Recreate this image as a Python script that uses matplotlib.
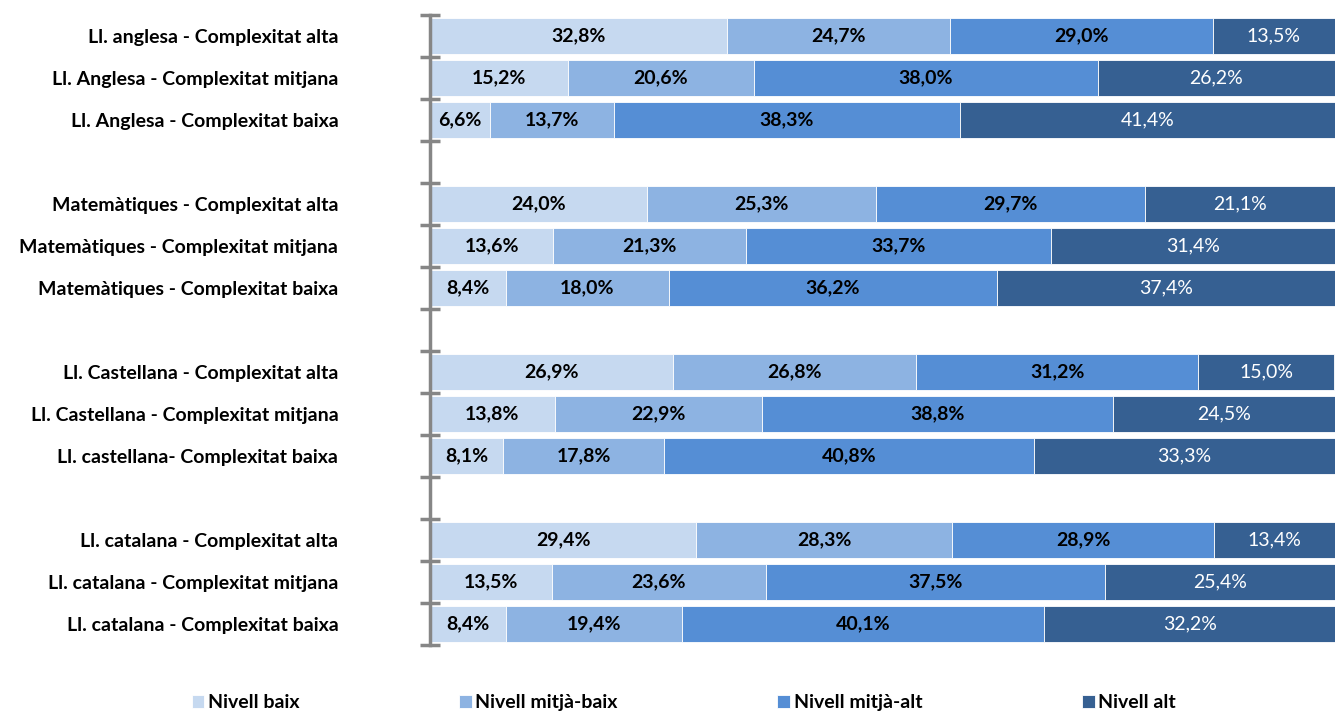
import matplotlib
matplotlib.use('Agg')
import matplotlib.pyplot as plt
import numpy as np

plt.rcParams['font.family'] = ['Lato', 'DejaVu Sans']

# categories, top to bottom (groups of three, blank slot between groups)
cats = ['Ll. anglesa - Complexitat alta', 'Ll. Anglesa - Complexitat mitjana',
        'Ll. Anglesa - Complexitat baixa',
        'Matemàtiques - Complexitat alta', 'Matemàtiques - Complexitat mitjana',
        'Matemàtiques - Complexitat baixa',
        'Ll. Castellana - Complexitat alta', 'Ll. Castellana - Complexitat mitjana',
        'Ll. castellana- Complexitat baixa',
        'Ll. catalana - Complexitat alta', 'Ll. catalana - Complexitat mitjana',
        'Ll. catalana - Complexitat baixa']

series_names = ['Nivell baix', 'Nivell mitjà-baix', 'Nivell mitjà-alt', 'Nivell alt']
baix = [32.8, 15.2, 6.6, 24.0, 13.6, 8.4, 26.9, 13.8, 8.1, 29.4, 13.5, 8.4]
mitja_baix = [24.7, 20.6, 13.7, 25.3, 21.3, 18.0, 26.8, 22.9, 17.8, 28.3, 23.6, 19.4]
mitja_alt = [29.0, 38.0, 38.3, 29.7, 33.7, 36.2, 31.2, 38.8, 40.8, 28.9, 37.5, 40.1]
alt = [13.5, 26.2, 41.4, 21.1, 31.4, 37.4, 15.0, 24.5, 33.3, 13.4, 25.4, 32.2]

colors = ['#c6d9f0', '#8db3e2', '#558ed5', '#366092']

# row positions with an empty slot after every group of three
pos = np.array([i + i // 3 for i in range(len(cats))])

fig = plt.figure(figsize=(13.35, 7.11), dpi=100)
ax = fig.add_axes([430 / 1335, 66 / 711, 905 / 1335, 630 / 711])

left = np.zeros(len(cats))
for k, (name, vals) in enumerate(zip(series_names, [baix, mitja_baix, mitja_alt, alt])):
    vals = np.array(vals)
    ax.barh(pos, vals, left=left, height=0.88, color=colors[k],
            edgecolor='white', linewidth=0.6, label=name)
    for y, l, v in zip(pos, left, vals):
        txt = f"{v:.1f}".replace('.', ',') + '%'
        if k < 3:
            ax.text(l + v / 2, y, txt, ha='center', va='center',
                    fontsize=14, fontweight='bold', color='black')
        else:
            ax.text(l + v / 2, y, txt, ha='center', va='center',
                    fontsize=14, color='white')
    left += vals

ax.set_xlim(0, 100)
ax.set_ylim(14.5, -0.5)
ax.set_xticks([])
ax.set_yticks(pos)
ax.set_yticklabels(cats, fontsize=14, fontweight='bold')
ax.tick_params(axis='y', which='major', length=0, pad=66)
ax.set_yticks(np.arange(-0.5, 15, 1), minor=True)
ax.tick_params(axis='y', which='minor', length=14, width=2.5,
               direction='inout', color='#868686')
for s in ['top', 'right', 'bottom']:
    ax.spines[s].set_visible(False)
ax.spines['left'].set_color('#868686')
ax.spines['left'].set_linewidth(2.5)

fig.legend(loc='lower left', bbox_to_anchor=(174 / 1335, -0.025), ncol=4,
           frameon=False, prop={'size': 14, 'weight': 'bold'},
           handlelength=0.65, handleheight=0.65, handletextpad=0.2,
           columnspacing=8.2)

fig.savefig('out.png', dpi=100)
